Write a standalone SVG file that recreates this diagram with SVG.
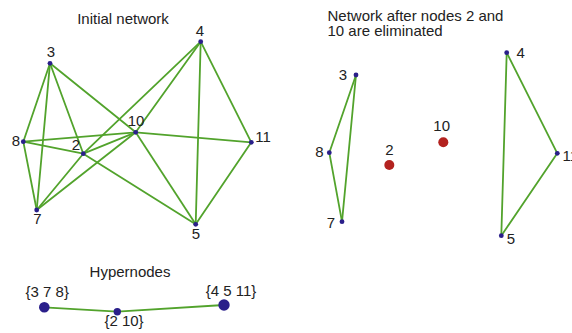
<svg xmlns="http://www.w3.org/2000/svg" width="572" height="333" viewBox="0 0 572 333">
  <style>
    text { font-family: "Liberation Sans", Arial, sans-serif; font-size: 15px; fill: #222; }
    .mid { text-anchor: middle; }
    .edges line { stroke: #52a32c; stroke-width: 1.8; stroke-linecap: round; }
    .dot { fill: #2a1f8a; }
    .gone { fill: #b3221f; }
  </style>
  <rect width="572" height="333" fill="#ffffff"/>

  <!-- Initial network -->
  <text class="mid" x="123" y="24">Initial network</text>
  <g id="initial-edges" class="edges">
    <line x1="50" y1="63.3" x2="23.3" y2="141.7"/>
    <line x1="50" y1="63.3" x2="36.7" y2="210"/>
    <line x1="50" y1="63.3" x2="83.3" y2="153.7"/>
    <line x1="50" y1="63.3" x2="135.7" y2="132.3"/>
    <line x1="200.7" y1="41.7" x2="83.3" y2="153.7"/>
    <line x1="200.7" y1="41.7" x2="135.7" y2="132.3"/>
    <line x1="200.7" y1="41.7" x2="195.7" y2="224.3"/>
    <line x1="200.7" y1="41.7" x2="251.3" y2="142.3"/>
    <line x1="23.3" y1="141.7" x2="135.7" y2="132.3"/>
    <line x1="23.3" y1="141.7" x2="83.3" y2="153.7"/>
    <line x1="23.3" y1="141.7" x2="36.7" y2="210"/>
    <line x1="83.3" y1="153.7" x2="135.7" y2="132.3"/>
    <line x1="83.3" y1="153.7" x2="36.7" y2="210"/>
    <line x1="83.3" y1="153.7" x2="195.7" y2="224.3"/>
    <line x1="135.7" y1="132.3" x2="36.7" y2="210"/>
    <line x1="135.7" y1="132.3" x2="251.3" y2="142.3"/>
    <line x1="135.7" y1="132.3" x2="195.7" y2="224.3"/>
    <line x1="251.3" y1="142.3" x2="195.7" y2="224.3"/>
  </g>
  <g id="n3"><circle class="dot" cx="50" cy="63.3" r="2.4"/><text class="mid" x="51" y="57">3</text></g>
  <g id="n4"><circle class="dot" cx="200.7" cy="41.7" r="2.4"/><text class="mid" x="200" y="36">4</text></g>
  <g id="n10"><circle class="dot" cx="135.7" cy="132.3" r="2.4"/><text class="mid" x="136" y="126">10</text></g>
  <g id="n8"><circle class="dot" cx="23.3" cy="141.7" r="2.4"/><text class="mid" x="16" y="145.5">8</text></g>
  <g id="n2"><circle class="dot" cx="83.3" cy="153.7" r="2.4"/><text class="mid" x="76" y="150">2</text></g>
  <g id="n11"><circle class="dot" cx="251.3" cy="142.3" r="2.4"/><text class="mid" x="263" y="141.5">11</text></g>
  <g id="n7"><circle class="dot" cx="36.7" cy="210" r="2.4"/><text class="mid" x="37.5" y="223.5">7</text></g>
  <g id="n5"><circle class="dot" cx="195.7" cy="224.3" r="2.4"/><text class="mid" x="196" y="238.5">5</text></g>

  <!-- Network after elimination -->
  <text x="327.5" y="20.7">Network after nodes 2 and</text>
  <text x="327.5" y="36.2">10 are eliminated</text>
  <g id="after-edges" class="edges">
    <line x1="356" y1="75" x2="329.3" y2="152.7"/>
    <line x1="356" y1="75" x2="342" y2="221.7"/>
    <line x1="329.3" y1="152.7" x2="342" y2="221.7"/>
    <line x1="506.7" y1="52.7" x2="557.3" y2="153.3"/>
    <line x1="506.7" y1="52.7" x2="501.3" y2="235.7"/>
    <line x1="557.3" y1="153.3" x2="501.3" y2="235.7"/>
  </g>
  <g id="a3"><circle class="dot" cx="356" cy="75" r="2.4"/><text class="mid" x="343" y="79.5">3</text></g>
  <g id="a8"><circle class="dot" cx="329.3" cy="152.7" r="2.4"/><text class="mid" x="319.3" y="156.7">8</text></g>
  <g id="a7"><circle class="dot" cx="342" cy="221.7" r="2.4"/><text class="mid" x="331" y="227.7">7</text></g>
  <g id="a4"><circle class="dot" cx="506.7" cy="52.7" r="2.4"/><text class="mid" x="520.7" y="58.3">4</text></g>
  <g id="a11"><circle class="dot" cx="557.3" cy="153.3" r="2.4"/><text x="562.5" y="160.7">11</text></g>
  <g id="a5"><circle class="dot" cx="501.3" cy="235.7" r="2.4"/><text class="mid" x="511" y="244.3">5</text></g>
  <g id="a2"><circle class="gone" cx="389.3" cy="165" r="5"/><text class="mid" x="389.3" y="155">2</text></g>
  <g id="a10"><circle class="gone" cx="443.3" cy="142.3" r="5"/><text class="mid" x="441.7" y="130.7">10</text></g>

  <!-- Hypernodes -->
  <text class="mid" x="130" y="277.3">Hypernodes</text>
  <g id="hyper-edges" class="edges">
    <line x1="44.3" y1="307.3" x2="117.3" y2="311.7"/>
    <line x1="117.3" y1="311.7" x2="224" y2="305"/>
  </g>
  <g id="h378"><circle class="dot" cx="44.3" cy="307.3" r="5.3"/><text class="mid" x="47.3" y="296.5">{3 7 8}</text></g>
  <g id="h210"><circle class="dot" cx="117.3" cy="311.7" r="3.7"/><text class="mid" x="124" y="326.3">{2 10}</text></g>
  <g id="h4511"><circle class="dot" cx="224" cy="305" r="5.7"/><text class="mid" x="231" y="295.7">{4 5 11}</text></g>
</svg>
